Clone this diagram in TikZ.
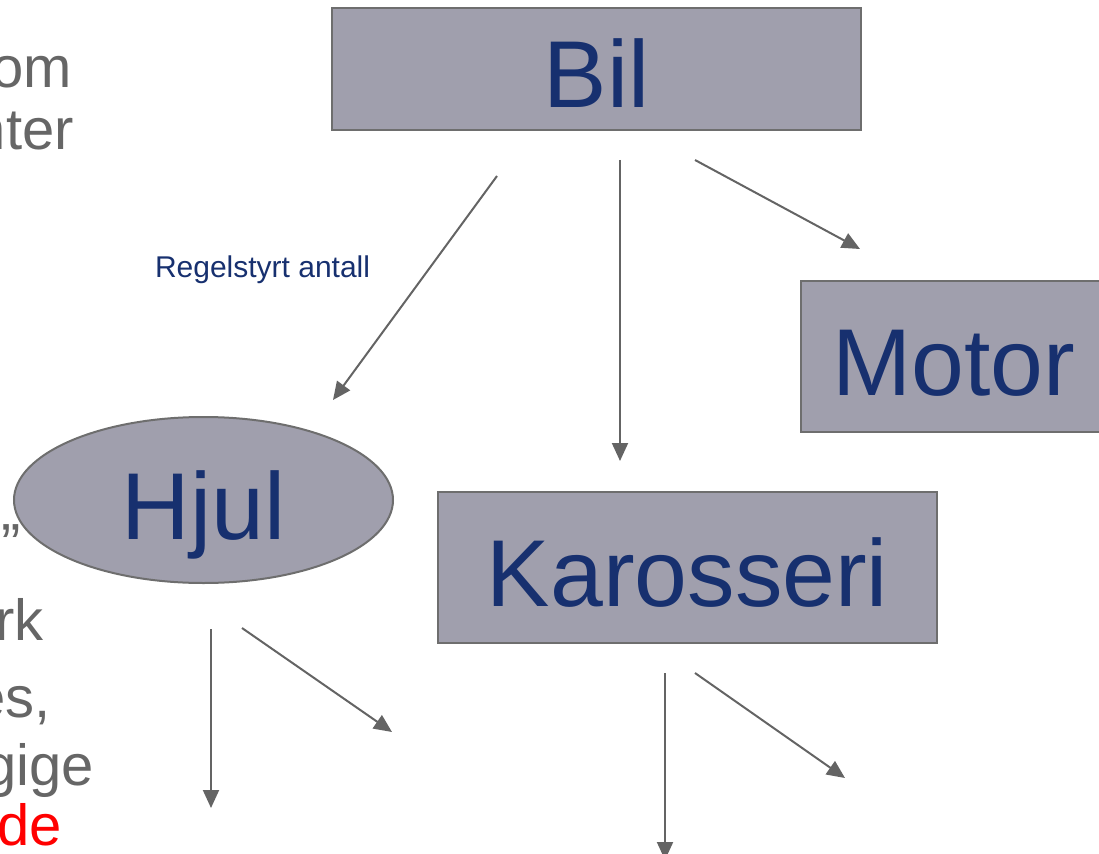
\documentclass[tikz,border=0pt]{standalone}
\usepackage{fontspec}
\setmainfont{Liberation Sans}
\usetikzlibrary{arrows.meta,shapes.geometric}

\definecolor{partfill}{RGB}{160,159,173}
\definecolor{partline}{RGB}{110,110,110}
\definecolor{partblue}{RGB}{23,48,111}
\definecolor{linkgray}{RGB}{100,100,100}
\definecolor{slidegray}{RGB}{102,102,102}

\tikzset{
  part/.style={draw=partline, fill=partfill, line width=2pt, inner sep=0pt,
    text=partblue, font=\fontsize{95}{100}\selectfont,
    text height=78pt, text depth=0pt},
  partbox/.style={part, rectangle},
  partoval/.style={part, ellipse},
  link/.style={draw=linkgray, line width=2pt, -{Triangle[length=18pt,width=16pt]}},
  slidetext/.style={inner sep=0pt, anchor=base east, text=slidegray,
    font=\fontsize{58}{62}\selectfont},
}

\begin{document}
\begin{tikzpicture}[x=1pt, y=-1pt]
    \useasboundingbox (0,0) rectangle (1099,853);
    \clip (0,0) rectangle (1099,853);

    % cut-off slide text on the left
    \node[slidetext] (om)   at (72,88)  {om};
    \node[slidetext] (nter) at (74,150) {nter};
    \node[slidetext, anchor=base west] (quote) at (1,564) {”};
    \node[slidetext] (rk)   at (44,640) {rk};
    \node[slidetext] (es)   at (51,717) {es,};
    \node[slidetext] (gige) at (94,785) {gige};
    \node[slidetext, text=red] (de) at (62,845) {de};

    % parts
    \node[partbox, minimum width=529pt, minimum height=122pt] (bil) at (596.5,69) {Bil};
    \node[partbox, minimum width=306pt, minimum height=151pt] (motor) at (954,356.5) {Motor};
    \node[partoval, minimum width=379pt, minimum height=166pt] (hjul) at (203.5,500) {Hjul};
    \node[partbox, minimum width=499pt, minimum height=151pt] (karosseri) at (687.5,567.5) {Karosseri};

    % arrow ends
    \coordinate (bilL)  at (497,176);
    \coordinate (bilM)  at (620,160);
    \coordinate (bilR)  at (695,160);
    \coordinate (hjulT) at (333,400);
    \coordinate (karT)  at (620,461);
    \coordinate (motT)  at (860,249);
    \coordinate (hjulA) at (211,629);
    \coordinate (hjulB) at (242,628);
    \coordinate (hjulC) at (211,808);
    \coordinate (hjulD) at (392,732);
    \coordinate (karA)  at (665,673);
    \coordinate (karB)  at (695,673);
    \coordinate (karC)  at (665,860);
    \coordinate (karD)  at (845,778);

    \draw[link] (bilL) -- node[pos=0.42, left=57pt, inner sep=0pt, text=partblue,
        font=\fontsize{30}{33}\selectfont] (rule) {Regelstyrt antall} (hjulT);
    \draw[link] (bilM) -- (karT);
    \draw[link] (bilR) -- (motT);

    \draw[link] (hjulA) -- (hjulC);
    \draw[link] (hjulB) -- (hjulD);

    \draw[link] (karA) -- (karC);
    \draw[link] (karB) -- (karD);
\end{tikzpicture}
\end{document}
